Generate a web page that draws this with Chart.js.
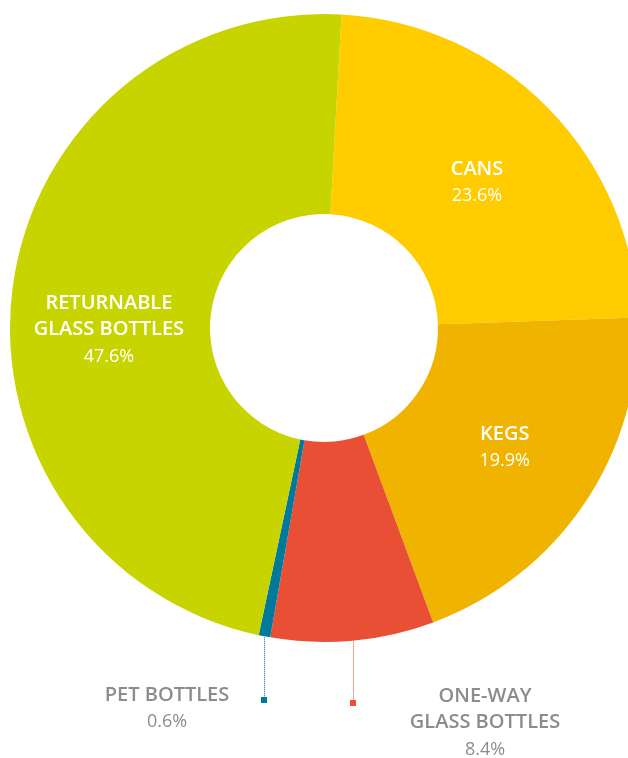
<!DOCTYPE html>
<html>
<head>
<meta charset="utf-8">
<script src="https://cdn.jsdelivr.net/npm/chart.js@4"></script>
<style>
  html, body { margin: 0; padding: 0; background: #fff; overflow: hidden; }
  #wrap { width: 648px; height: 758px; }
</style>
</head>
<body>
<div id="wrap"><canvas id="pack-chart" width="648" height="758"></canvas></div>
<script>
const categories = ['CANS', 'KEGS', 'ONE-WAY GLASS BOTTLES', 'PET BOTTLES', 'RETURNABLE GLASS BOTTLES'];
const labelLines = [['CANS'], ['KEGS'], ['ONE-WAY', 'GLASS BOTTLES'], ['PET BOTTLES'], ['RETURNABLE', 'GLASS BOTTLES']];
const shares = [23.6, 19.9, 8.4, 0.6, 47.6];
const colors = ['#FFCC00', '#F0B400', '#E94F35', '#00799A', '#C8D400'];

// small slices get their label outside, below the ring
const outside = {
    2: { dx: 132, lineEnd: 701, textY: 696 },
    3: { dx: -97, lineEnd: 698, textY: 695 }
};
// nudges for the inside labels
const insideShift = { 0: { dx: 0, dy: 4 }, 1: { dx: 3, dy: 0 }, 4: { dx: -3, dy: 30 } };

const FONT = '"Open Sans", "Noto Sans", sans-serif';
const LINE = 26.7;

const sliceLabels = {
    id: 'sliceLabels',
    afterDatasetsDraw(chart) {
        const ctx = chart.ctx;
        const meta = chart.getDatasetMeta(0);
        ctx.save();
        ctx.textAlign = 'center';
        ctx.textBaseline = 'middle';
        meta.data.forEach(function (arc, i) {
            const p = arc.getProps(['x', 'y', 'startAngle', 'endAngle', 'innerRadius', 'outerRadius'], true);
            const mid = (p.startAngle + p.endAngle) / 2;
            const lines = labelLines[i];
            const pct = shares[i].toFixed(1) + '%';

            if (outside[i]) {
                const o = outside[i];
                const ex = Math.round(p.x + Math.cos(mid) * p.outerRadius);
                const ey = p.y + Math.sin(mid) * p.outerRadius;
                ctx.strokeStyle = colors[i];
                ctx.lineWidth = 1;
                ctx.setLineDash([1, 1]);
                ctx.beginPath();
                ctx.moveTo(ex + 0.5, ey + 1);
                ctx.lineTo(ex + 0.5, o.lineEnd);
                ctx.stroke();
                ctx.setLineDash([]);
                ctx.fillStyle = colors[i];
                ctx.fillRect(ex - 3, o.lineEnd - 1, 6, 6);

                const tx = ex + o.dx;
                let ty = o.textY;
                ctx.fillStyle = '#8c8c8c';
                ctx.font = '600 20px ' + FONT;
                lines.forEach(function (t) {
                    ctx.fillText(t, tx, ty);
                    ty += LINE;
                });
                ctx.font = '18px ' + FONT;
                ctx.fillText(pct, tx, ty);
                return;
            }

            const r = (p.innerRadius + p.outerRadius) / 2;
            const s = insideShift[i] || { dx: 0, dy: 0 };
            const cx = p.x + Math.cos(mid) * r + s.dx;
            const cy = p.y + Math.sin(mid) * r + s.dy;
            let y = cy - lines.length * LINE / 2;
            ctx.fillStyle = '#ffffff';
            ctx.font = '600 20px ' + FONT;
            lines.forEach(function (t) {
                ctx.fillText(t, cx, y);
                y += LINE;
            });
            ctx.font = '18px ' + FONT;
            ctx.fillText(pct, cx, y);
        });
        ctx.restore();
    }
};

new Chart(document.getElementById('pack-chart'), {
    type: 'doughnut',
    data: {
        labels: categories,
        datasets: [{
            data: shares,
            backgroundColor: colors,
            borderWidth: 0
        }]
    },
    options: {
        responsive: false,
        animation: false,
        rotation: 3.2,
        cutout: '36.3%',
        layout: { padding: { left: 10, right: 10, top: 14, bottom: 116 } },
        plugins: {
            legend: { display: false },
            tooltip: { enabled: false }
        }
    },
    plugins: [sliceLabels]
});
</script>
</body>
</html>
